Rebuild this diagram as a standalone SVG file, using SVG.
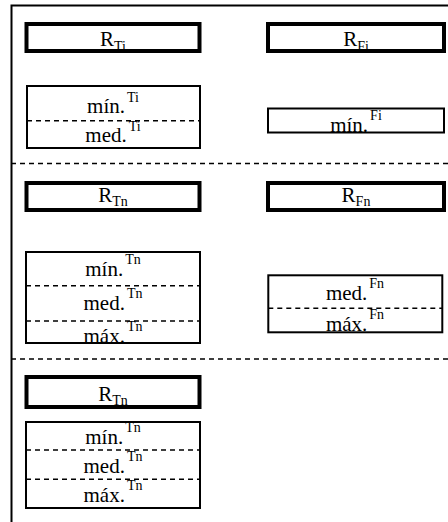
<svg xmlns="http://www.w3.org/2000/svg" width="448" height="522" viewBox="0 0 448 522">
<style>
.t{font-family:"Liberation Serif","Times New Roman",Times,serif;font-size:21px;fill:#000;text-anchor:middle}
.s{font-size:14px}
.hd{fill:#fff;stroke:#000;stroke-width:4}
.bx{fill:#fff;stroke:#000;stroke-width:2}
.dv{stroke:#000;stroke-width:1.6;stroke-dasharray:5 4;fill:none}
.fr{stroke:#000;stroke-width:2;fill:none}
</style>
<g id="frame">
<path class="fr" d="M11.5,522 V5.5 H448"/>
<path class="dv" d="M11,163.5 H448 M11,359 H448"/>
</g>
<g id="RTi">
<rect class="hd" x="26.5" y="24" width="173" height="27"/>
<text class="t" x="113" y="46">R<tspan class="s" dy="4.5">Ti</tspan></text>
</g>
<g id="valTi">
<rect class="bx" x="27" y="86" width="173" height="62"/>
<path class="dv" d="M27,120.7 H200"/>
<text class="t" x="113" y="113">mín.<tspan class="s" dx="2" dy="-11">Ti</tspan></text>
<text class="t" x="113" y="141.5">med.<tspan class="s" dx="2" dy="-11">Ti</tspan></text>
</g>
<g id="RFi">
<rect class="hd" x="268" y="24" width="176" height="27"/>
<text class="t" x="356" y="46">R<tspan class="s" dy="4.5">Fi</tspan></text>
</g>
<g id="valFi">
<rect class="bx" x="268" y="108.5" width="176" height="24"/>
<text class="t" x="356" y="132">mín.<tspan class="s" dx="2" dy="-12">Fi</tspan></text>
</g>
<g id="RTn1">
<rect class="hd" x="26.5" y="183" width="173" height="27"/>
<text class="t" x="113" y="201.5">R<tspan class="s" dy="4.5">Tn</tspan></text>
</g>
<g id="valTn1">
<rect class="bx" x="26" y="252" width="174" height="91"/>
<path class="dv" d="M26,285.7 H200 M26,321 H200"/>
<text class="t" x="113" y="276">mín.<tspan class="s" dx="2" dy="-12">Tn</tspan></text>
<text class="t" x="113" y="310">med.<tspan class="s" dx="2" dy="-12">Tn</tspan></text>
<text class="t" x="113" y="342.5">máx.<tspan class="s" dx="2" dy="-12">Tn</tspan></text>
</g>
<g id="RFn">
<rect class="hd" x="268" y="183" width="176" height="27"/>
<text class="t" x="356" y="201.5">R<tspan class="s" dy="4.5">Fn</tspan></text>
</g>
<g id="valFn">
<rect class="bx" x="268.3" y="275.3" width="174" height="57"/>
<path class="dv" d="M268.3,308.3 H442.3"/>
<text class="t" x="355" y="300">med.<tspan class="s" dx="2" dy="-12">Fn</tspan></text>
<text class="t" x="355" y="330.5">máx.<tspan class="s" dx="2" dy="-12">Fn</tspan></text>
</g>
<g id="RTn2">
<rect class="hd" x="26.5" y="377" width="173" height="30"/>
<text class="t" x="113" y="401">R<tspan class="s" dy="4">Tn</tspan></text>
</g>
<g id="valTn2">
<rect class="bx" x="26" y="422" width="174" height="86"/>
<path class="dv" d="M26,450 H200 M26,479.3 H200"/>
<text class="t" x="113" y="444.3">mín.<tspan class="s" dx="2" dy="-12">Tn</tspan></text>
<text class="t" x="113" y="473.3">med.<tspan class="s" dx="2" dy="-12">Tn</tspan></text>
<text class="t" x="113" y="501.7">máx.<tspan class="s" dx="2" dy="-12">Tn</tspan></text>
</g>
</svg>
